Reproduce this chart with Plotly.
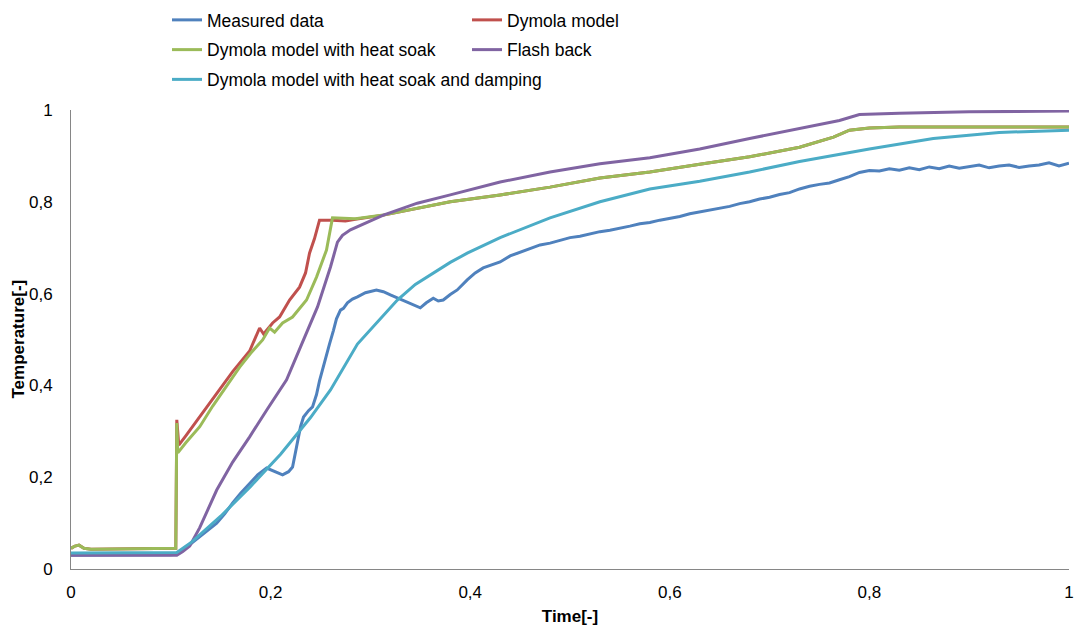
import plotly.graph_objects as go

# Measured data
meas_t = [0.0, 0.05, 0.1, 0.106, 0.112, 0.12, 0.129, 0.137, 0.146, 0.154, 0.162, 0.17, 0.179,
          0.187, 0.196, 0.204, 0.212, 0.218, 0.222, 0.226, 0.23, 0.233, 0.238, 0.242, 0.246,
          0.249, 0.255, 0.259, 0.263, 0.266, 0.27, 0.273, 0.277, 0.282, 0.287, 0.295, 0.306,
          0.313, 0.32, 0.328, 0.337, 0.344, 0.35, 0.356, 0.363, 0.368, 0.373, 0.38, 0.387,
          0.397, 0.405, 0.413, 0.42, 0.43, 0.44, 0.45, 0.46, 0.47, 0.48, 0.49, 0.5, 0.51,
          0.52, 0.53, 0.54, 0.55, 0.56, 0.57, 0.58, 0.59, 0.6, 0.61, 0.62, 0.63, 0.64, 0.65,
          0.66, 0.67, 0.68, 0.69, 0.7, 0.71, 0.72, 0.73, 0.74, 0.75, 0.76, 0.77, 0.78, 0.79,
          0.8, 0.81, 0.82, 0.83, 0.84, 0.85, 0.86, 0.87, 0.88, 0.89, 0.9, 0.91, 0.92, 0.93,
          0.94, 0.95, 0.96, 0.97, 0.98, 0.99, 1.0]
meas_v = [0.03, 0.03, 0.031, 0.032, 0.041, 0.055, 0.07, 0.085, 0.1, 0.12, 0.144, 0.165, 0.187,
          0.205, 0.22, 0.212, 0.205, 0.212, 0.222, 0.266, 0.31, 0.331, 0.345, 0.353, 0.38,
          0.41, 0.46, 0.49, 0.52, 0.545, 0.564, 0.568, 0.58, 0.588, 0.593, 0.602, 0.608,
          0.604, 0.597, 0.59, 0.582, 0.576, 0.569, 0.58, 0.59, 0.584, 0.586, 0.598, 0.608,
          0.63, 0.645, 0.656, 0.662, 0.669, 0.682, 0.69, 0.697, 0.706, 0.71, 0.716, 0.722,
          0.725, 0.73, 0.735, 0.738, 0.742, 0.747, 0.752, 0.755, 0.76, 0.764, 0.768, 0.774,
          0.778, 0.782, 0.786, 0.79, 0.796, 0.8, 0.806, 0.81, 0.816, 0.82, 0.828, 0.834,
          0.838, 0.841, 0.848, 0.855, 0.864, 0.868, 0.867, 0.872, 0.869, 0.874, 0.87, 0.876,
          0.872, 0.878, 0.873, 0.876, 0.88, 0.874, 0.878, 0.88, 0.875, 0.878, 0.88, 0.885,
          0.878, 0.884]

# Dymola model
dym_t = [0.0, 0.004, 0.008, 0.013, 0.02, 0.05, 0.105, 0.106, 0.108, 0.115, 0.129, 0.139,
         0.156, 0.162, 0.179, 0.189, 0.193, 0.202, 0.209, 0.219, 0.229, 0.235, 0.239, 0.244,
         0.249, 0.262, 0.275, 0.285, 0.313, 0.347, 0.38, 0.43, 0.48, 0.53, 0.58, 0.63, 0.68,
         0.73, 0.764, 0.78, 0.8, 0.83, 1.0]
dym_v = [0.045, 0.05, 0.052, 0.045, 0.043, 0.044, 0.045, 0.325, 0.27, 0.29, 0.331, 0.362,
         0.41, 0.43, 0.475, 0.525, 0.512, 0.536, 0.549, 0.586, 0.614, 0.645, 0.688, 0.72,
         0.76, 0.76, 0.758, 0.762, 0.771, 0.786, 0.8, 0.815, 0.832, 0.852, 0.865, 0.882,
         0.898, 0.919, 0.941, 0.956, 0.961, 0.963, 0.963]

# Dymola model with heat soak
soak_t = [0.0, 0.004, 0.008, 0.013, 0.02, 0.05, 0.105, 0.106, 0.107, 0.115, 0.129, 0.142,
          0.159, 0.169, 0.18, 0.192, 0.199, 0.204, 0.212, 0.222, 0.236, 0.246, 0.256, 0.262,
          0.285, 0.313, 0.347, 0.38, 0.43, 0.48, 0.53, 0.58, 0.63, 0.68, 0.73, 0.764, 0.78,
          0.8, 0.83, 1.0]
soak_v = [0.045, 0.05, 0.052, 0.045, 0.043, 0.044, 0.045, 0.318, 0.253, 0.275, 0.31, 0.355,
          0.41, 0.44, 0.47, 0.499, 0.525, 0.516, 0.536, 0.549, 0.586, 0.636, 0.695, 0.765,
          0.763, 0.771, 0.786, 0.8, 0.815, 0.832, 0.852, 0.865, 0.882, 0.898, 0.919, 0.941,
          0.956, 0.961, 0.963, 0.963]

# Flash back
flash_t = [0.0, 0.106, 0.112, 0.119, 0.129, 0.146, 0.162, 0.179, 0.196, 0.216, 0.23, 0.247,
           0.26, 0.267, 0.272, 0.28, 0.313, 0.347, 0.38, 0.43, 0.48, 0.53, 0.58, 0.63, 0.68,
           0.73, 0.77, 0.79, 0.83, 0.9, 1.0]
flash_v = [0.03, 0.03, 0.038, 0.05, 0.09, 0.172, 0.233, 0.288, 0.346, 0.412, 0.484, 0.571,
           0.658, 0.712, 0.727, 0.739, 0.771, 0.797, 0.815, 0.843, 0.865, 0.883, 0.896, 0.915,
           0.938, 0.96, 0.977, 0.99, 0.993, 0.996, 0.998]

# Dymola model with heat soak and damping
damp_t = [0.0, 0.106, 0.12, 0.15, 0.18, 0.21, 0.24, 0.26, 0.287, 0.31, 0.327, 0.345, 0.363,
          0.38, 0.397, 0.43, 0.48, 0.53, 0.58, 0.63, 0.68, 0.73, 0.8, 0.864, 0.93, 1.0]
damp_v = [0.035, 0.036, 0.057, 0.115, 0.18, 0.25, 0.33, 0.39, 0.49, 0.545, 0.586, 0.62,
          0.645, 0.668, 0.688, 0.722, 0.765, 0.8, 0.828, 0.845, 0.865, 0.888, 0.915, 0.938,
          0.951, 0.956]

series = [
    ("Measured data", meas_t, meas_v, "#4F81BD", "legend", "g1"),
    ("Dymola model", dym_t, dym_v, "#C0504D", "legend2", "g2"),
    ("Dymola model with heat soak", soak_t, soak_v, "#9BBB59", "legend", "g3"),
    ("Flash back", flash_t, flash_v, "#8064A2", "legend2", "g4"),
    ("Dymola model with heat soak and damping", damp_t, damp_v, "#4BACC6", "legend", "g5"),
]

fig = go.Figure()
for name, t, v, color, leg, grp in series:
    fig.add_trace(go.Scatter(
        x=t, y=v, mode="lines", name=name,
        line=dict(color=color, width=3),
        legend=leg, legendgroup=grp,
    ))

font = dict(family="Liberation Sans, Arial, sans-serif", size=17, color="#000000")
legend_style = dict(
    xref="container", yref="container", xanchor="left", yanchor="top",
    orientation="v", traceorder="grouped", tracegroupgap=4,
    font=dict(family=font["family"], size=17.5, color="#000000"),
    bgcolor="rgba(0,0,0,0)", itemwidth=30,
)

fig.update_layout(
    width=1074, height=626,
    margin=dict(l=71, r=5, t=110, b=57, autoexpand=False),
    paper_bgcolor="white", plot_bgcolor="white",
    separators=", ",
    font=font,
    showlegend=True,
    legend=dict(x=167 / 1074, y=1 - 2 / 626, **legend_style),
    legend2=dict(x=467 / 1074, y=1 - 2 / 626, **legend_style),
    xaxis=dict(
        range=[0, 1], tickvals=[0, 0.2, 0.4, 0.6, 0.8, 1],
        showgrid=False, zeroline=False, showline=True, linecolor="#868686", linewidth=1,
        ticks="outside", ticklen=8, tickcolor="rgba(0,0,0,0)",
        title=dict(text="<b>Time[-]</b>", font=dict(size=17), standoff=8),
    ),
    yaxis=dict(
        range=[0, 1], tickvals=[0, 0.2, 0.4, 0.6, 0.8, 1],
        showgrid=False, zeroline=False, showline=True, linecolor="#868686", linewidth=1,
        ticks="outside", ticklen=14, tickcolor="rgba(0,0,0,0)",
    ),
    annotations=[dict(
        text="<b>Temperature[-]</b>", textangle=-90, showarrow=False,
        xref="paper", yref="paper", x=(18 - 71) / 998, y=0.5,
        xanchor="center", yanchor="middle", font=dict(size=17),
    )],
)

fig.write_html("out.html")
